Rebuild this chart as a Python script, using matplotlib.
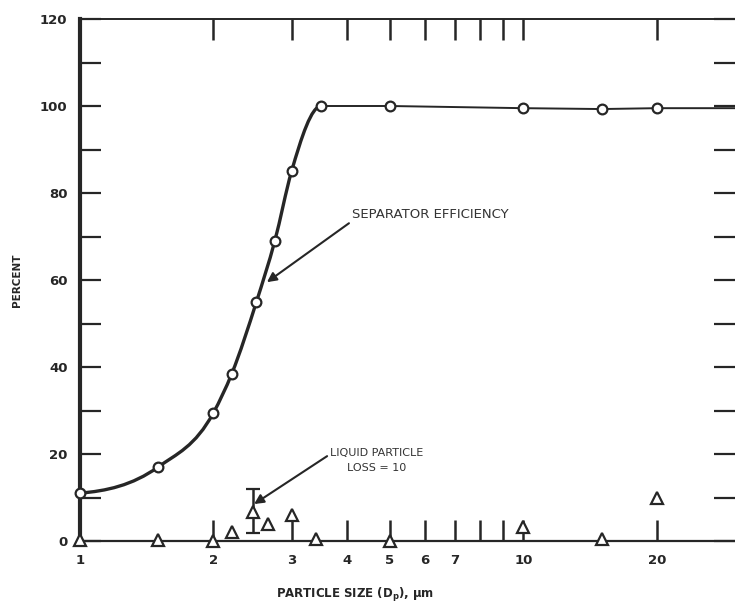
import matplotlib.pyplot as plt
import matplotlib as mpl
from matplotlib.path import Path
from matplotlib.patches import PathPatch
import numpy as np

mpl.use("Agg")

# separator efficiency (circles)
size_eff = [1.0, 1.5, 2.0, 2.2, 2.5, 2.75, 3.0, 3.5, 5.0, 10.0, 15.0, 20.0]
pct_eff = [11.0, 17.0, 29.5, 38.5, 55.0, 69.0, 85.0, 100.0, 100.0, 99.5, 99.3, 99.5]

# liquid particle loss (triangles)
size_loss = [1.0, 1.5, 2.0, 2.2, 2.65, 3.0, 3.4, 5.0, 10.0, 15.0, 20.0]
pct_loss = [0.3, 0.2, 0.0, 2.0, 4.0, 6.0, 0.5, 0.0, 3.3, 0.5, 10.0]

# the point with the spread bar
size_bar = 2.45
pct_bar = 6.7
bar_low = 1.8
bar_high = 12.0

x_ticks = [1, 2, 3, 4, 5, 6, 7, 8, 9, 10, 20]
x_labels = ["1", "2", "3", "4", "5", "6", "7", "", "", "10", "20"]
y_labels = [0, 20, 40, 60, 80, 100, 120]
XMAX = 30
INK = "#262626"

FONT = dict(family="DejaVu Sans")


def smooth_path(xs, ys):
    """
    Cubic Hermite curve through the points, with log-x as the
    parameter; flat at the last point.
    """
    lx = np.log10(xs)
    y = np.asarray(ys, dtype=float)
    n = len(lx)
    h = np.diff(lx)
    d = np.diff(y) / h
    m = np.zeros(n)
    m[0] = d[0] * 0.25
    for i in range(1, n - 1):
        m[i] = (d[i - 1] * h[i] + d[i] * h[i - 1]) / (h[i - 1] + h[i])
    m[-1] = 0.0
    verts = [(lx[0], y[0])]
    codes = [Path.MOVETO]
    for i in range(n - 1):
        verts.append((lx[i] + h[i] / 3, y[i] + m[i] * h[i] / 3))
        verts.append((lx[i + 1] - h[i] / 3, y[i + 1] - m[i + 1] * h[i] / 3))
        verts.append((lx[i + 1], y[i + 1]))
        codes += [Path.CURVE4] * 3
    verts = np.array(verts)
    verts[:, 0] = 10 ** verts[:, 0]
    return Path(verts, codes)


fig = plt.figure(figsize=(7.35, 6.06), dpi=100)
ax = fig.add_axes([80 / 735, 65 / 606, 655 / 735, 522 / 606])
ax.set_xscale("log")
ax.set_xlim(1, XMAX)
ax.set_ylim(0, 120)

# efficiency curve: smooth rise, then the flat run
path = smooth_path(size_eff[:8], pct_eff[:8])
ax.add_patch(PathPatch(path, facecolor="none", edgecolor=INK, lw=2.4,
                       zorder=3))
ax.plot(size_eff[7:] + [XMAX], pct_eff[7:] + [pct_eff[-1]], color=INK,
        lw=1.4, zorder=3)
ax.plot(size_eff, pct_eff, "o", ms=7, mfc="white", mec=INK, mew=1.6,
        zorder=4, clip_on=False)

# liquid particle loss
ax.plot(size_loss, pct_loss, "^", ms=8, mfc="white", mec=INK, mew=1.6,
        zorder=4, clip_on=False)
ax.errorbar([size_bar], [pct_bar],
            yerr=[[pct_bar - bar_low], [bar_high - pct_bar]],
            fmt="^", ms=8, mfc="white", mec=INK, mew=1.6,
            ecolor=INK, elinewidth=1.8, capsize=5, capthick=1.8,
            zorder=4)

# axes and ticks
for side in ["left", "bottom", "top"]:
    ax.spines[side].set_color(INK)
ax.spines["left"].set_linewidth(3)
ax.spines["bottom"].set_linewidth(1.6)
ax.spines["top"].set_linewidth(1.4)
ax.spines["right"].set_visible(False)

ax.set_xticks(x_ticks)
ax.set_xticklabels(x_labels)
ax.xaxis.set_minor_locator(mpl.ticker.NullLocator())
ax.tick_params(axis="x", which="major", direction="in", top=True,
               length=15, width=1.8, color=INK, pad=9,
               labelsize=9.5)
ax.set_yticks(np.arange(0, 121, 10))
ax.set_yticklabels([str(v) if v in y_labels else "" for v in
                    range(0, 121, 10)])
ax.tick_params(axis="y", which="major", direction="in", right=True,
               length=15, width=1.6, color=INK, pad=9,
               labelsize=9.5)
for lab in ax.get_xticklabels() + ax.get_yticklabels():
    lab.set_fontweight("bold")
    lab.set_color(INK)

ax.set_ylabel("PERCENT", fontsize=7.5, color=INK, labelpad=13,
              fontweight="bold", **FONT)
ax.set_xlabel(r"PARTICLE SIZE (D$_\mathregular{p}$), μm", fontsize=8.5,
              color=INK, fontweight="bold", **FONT)
ax.xaxis.set_label_coords(275 / 655, -45 / 522)

# annotations
ax.annotate("SEPARATOR EFFICIENCY", xy=(2.64, 59.5), xytext=(4.1, 75),
            fontsize=9.5, color="#333333", va="center", ha="left",
            arrowprops=dict(arrowstyle="-|>", color=INK, lw=1.5,
                            mutation_scale=14, shrinkA=0, shrinkB=0,
                            relpos=(0, 0)),
            **FONT)
ax.annotate("LIQUID PARTICLE\nLOSS = 10", xy=(2.47, 8.5), xytext=(3.66, 18.5),
            fontsize=8, color="#333333", va="center", ha="left",
            multialignment="center", linespacing=1.6,
            arrowprops=dict(arrowstyle="-|>", color=INK, lw=1.5,
                            mutation_scale=14, shrinkA=0, shrinkB=0,
                            relpos=(0, 0.75)),
            **FONT)

plt.savefig("out.png", dpi=100)
